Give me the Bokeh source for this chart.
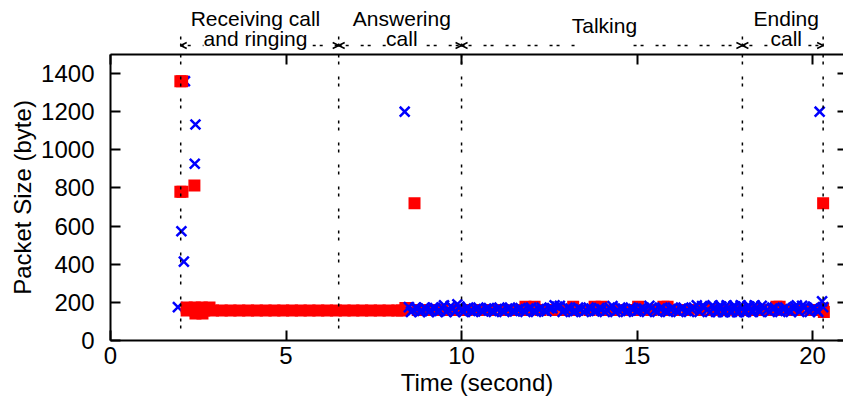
from bokeh.plotting import figure
from bokeh.models import (Range1d, LinearAxis, FixedTicker, CustomJSTickFormatter,
                          Span, Label, Arrow, OpenHead)
from bokeh.layouts import column
from bokeh.embed import file_html
from bokeh.resources import INLINE

# ---------------- data ----------------
x_ticks = [0, 5, 10, 15, 20]
y_ticks = [0, 200, 400, 600, 800, 1000, 1200, 1400]

phase_bounds = [2.0, 6.5, 10.0, 18.0, 20.3]
phase_names = [["Receiving call", "and ringing"], ["Answering", "call"], ["Talking"], ["Ending", "call"]]

# red squares (one direction of the call)
red_x = [1.99, 2.04, 1.99, 2.05, 2.39,
         2.17, 2.40, 2.60, 2.82,
         2.42, 2.62,
         2.17, 2.42, 2.67, 2.92, 3.17, 3.42, 3.67, 3.92, 4.17, 4.42, 4.67, 4.92,
         5.17, 5.42, 5.67, 5.92, 6.17, 6.42, 6.67, 6.92, 7.17, 7.42, 7.67, 7.92,
         8.17, 8.30, 8.40,
         8.66,
         8.75, 9.10, 9.45, 9.80, 10.15, 10.50, 10.85, 11.20, 11.55, 11.90, 12.25,
         12.60, 12.95, 13.30, 13.65, 14.00, 14.35, 14.70, 15.05, 15.40, 15.75,
         16.10, 16.45, 16.80, 17.15, 17.50, 17.85, 18.20, 18.55, 18.90, 19.25,
         19.60, 19.95, 20.20,
         11.82, 12.08, 13.18, 13.79, 13.99, 15.03, 15.75, 15.87, 18.97, 19.06,
         20.30, 20.30, 20.32]
red_y = [1360, 1360, 780, 780, 813,
         173, 173, 173, 173,
         141, 141,
         157, 157, 157, 157, 157, 157, 157, 157, 157, 157, 157, 157,
         157, 157, 157, 157, 157, 157, 157, 157, 157, 157, 157, 157,
         157, 157, 170,
         720,
         160, 160, 160, 160, 160, 160, 160, 160, 160, 160, 160,
         160, 160, 160, 160, 160, 160, 160, 160, 160, 160,
         160, 160, 160, 160, 160, 160, 160, 160, 160, 160,
         160, 160, 160,
         177, 177, 177, 177, 177, 177, 177, 177, 177, 177,
         720, 168, 150]

# blue crosses (other direction), early part drawn under the red squares
blue_early_x = [1.92, 2.02, 2.09, 2.12, 2.40, 2.42]
blue_early_y = [175, 573, 414, 1360, 927, 1133]

# blue crosses from answering onwards
blue_x = [8.38,
          8.50, 8.62, 8.75, 8.88, 9.00, 9.12, 9.25, 9.38, 9.50, 9.62, 9.75, 9.88,
          10.00, 10.12, 10.25, 10.40, 10.55, 10.70, 10.85, 11.00, 11.15, 11.30,
          11.45, 11.60, 11.75, 11.90, 12.05, 12.20, 12.35, 12.50, 12.65, 12.80,
          12.95, 13.10, 13.25, 13.40, 13.55, 13.70, 13.85, 14.00, 14.15, 14.30,
          14.45, 14.60, 14.75, 14.90, 15.05, 15.20, 15.35, 15.50, 15.65, 15.80,
          15.95, 16.10, 16.25, 16.40, 16.55, 16.70, 16.85, 17.00, 17.15, 17.25,
          17.35, 17.45, 17.55, 17.65, 17.75, 17.85, 17.95, 18.05, 18.15, 18.25,
          18.35, 18.45, 18.55, 18.70, 18.85, 19.00, 19.15, 19.30, 19.45, 19.55,
          19.70, 19.85, 20.00, 20.12,
          20.20, 20.27, 20.30]
blue_y = [1200,
          175, 160, 168, 155, 165, 158, 170, 155, 185, 160, 170, 190,
          158, 168, 155, 165, 158, 168, 155, 165, 158, 168,
          155, 165, 158, 168, 155, 165, 158, 168, 185, 182,
          160, 168, 155, 165, 158, 168, 155, 165, 158, 180,
          160, 168, 155, 165, 158, 168, 182, 158, 168, 155,
          165, 158, 168, 155, 165, 185, 180, 160, 185, 150,
          182, 148, 185, 150, 182, 148, 185, 150, 182, 152,
          185, 158, 182, 160, 168, 155, 165, 158, 168, 185,
          182, 160, 168, 158,
          1200, 205, 175]

# second, interleaved row of blue crosses in the talking band
blue2_x = [8.56, 8.69, 8.81, 8.94, 9.06, 9.19, 9.31, 9.44, 9.56, 9.69, 9.81, 9.94,
           10.06, 10.19, 10.33, 10.48, 10.62, 10.78, 10.92, 11.08, 11.22, 11.38,
           11.52, 11.68, 11.82, 11.98, 12.12, 12.28, 12.42, 12.58, 12.72, 12.88,
           13.02, 13.18, 13.32, 13.48, 13.62, 13.78, 13.92, 14.08, 14.22, 14.38,
           14.52, 14.68, 14.82, 14.98, 15.12, 15.28, 15.42, 15.58, 15.72, 15.88,
           16.02, 16.18, 16.32, 16.48, 16.62, 16.78, 16.92, 17.08, 17.20, 17.30,
           17.40, 17.50, 17.60, 17.70, 17.80, 17.90, 18.00, 18.10, 18.20, 18.30,
           18.40, 18.50, 18.62, 18.78, 18.92, 19.08, 19.22, 19.38, 19.50, 19.62,
           19.78, 19.92, 20.06, 20.16]
blue2_y = [150, 172, 150, 172, 150, 172, 150, 172, 150, 180, 150, 178,
           150, 172, 150, 172, 152, 170, 150, 172, 150, 172,
           152, 170, 150, 172, 150, 172, 152, 170, 178, 150,
           172, 150, 172, 150, 172, 152, 170, 150, 172, 150,
           172, 150, 172, 152, 170, 150, 172, 150, 172, 150,
           172, 150, 172, 150, 172, 150, 178, 150, 172, 150,
           178, 150, 172, 150, 178, 150, 172, 150, 178, 150,
           172, 150, 172, 150, 172, 150, 172, 150, 178, 150,
           178, 150, 172, 150]

# ---------------- styling ----------------
FONT = "Liberation Sans"
FS = "24px"
HFS = "21px"
DASH = "3 4 3 12"
W = 843
LEFT = 110
HDR_H = 52

p = figure(width=W, height=407 - HDR_H, x_range=Range1d(0, 20.88), y_range=Range1d(0, 1500),
           output_backend="svg", toolbar_location=None,
           min_border_left=LEFT, min_border_right=0, min_border_top=2, min_border_bottom=67)
p.outline_line_color = None
p.grid.visible = False
p.background_fill_color = "white"
p.border_fill_color = "white"

p.xaxis.ticker = FixedTicker(ticks=x_ticks)
p.yaxis.ticker = FixedTicker(ticks=y_ticks)
p.xaxis.axis_label = "Time (second)"
p.yaxis.axis_label = "Packet Size (byte)"
for ax in (p.xaxis[0], p.yaxis[0]):
    ax.axis_line_width = 2
    ax.axis_line_color = "black"
    ax.major_tick_in = 10
    ax.major_tick_out = 0
    ax.major_tick_line_width = 2
    ax.minor_tick_line_color = None
    ax.major_label_text_font = FONT
    ax.major_label_text_font_size = FS
    ax.major_label_text_color = "black"
    ax.axis_label_text_font = FONT
    ax.axis_label_text_font_size = FS
    ax.axis_label_text_font_style = "normal"
    ax.axis_label_text_color = "black"
p.xaxis.major_label_standoff = 6
p.xaxis.axis_label_standoff = 2
p.yaxis.major_label_standoff = 16
p.yaxis.axis_label_standoff = 2

blank = "return ''"
top_ax = LinearAxis(ticker=FixedTicker(ticks=x_ticks), formatter=CustomJSTickFormatter(code=blank),
                    major_label_text_font_size="0px", major_label_standoff=0,
                    major_tick_in=10, major_tick_out=0, major_tick_line_width=2,
                    axis_line_width=2, minor_tick_line_color=None)
p.add_layout(top_ax, "above")


def right_axis(ticks, tick_color):
    return LinearAxis(ticker=FixedTicker(ticks=ticks), formatter=CustomJSTickFormatter(code=blank),
                      major_label_text_font_size="0px", major_label_standoff=0,
                      major_tick_in=6, major_tick_out=0, major_tick_line_width=2,
                      major_tick_line_color=tick_color,
                      axis_line_color=None, minor_tick_line_color=None)


p.add_layout(right_axis(y_ticks, "black"), "right")

for b in phase_bounds:
    p.add_layout(Span(location=b, dimension="height", line_color="black",
                      line_width=1.5, line_dash=DASH))

BLUE = "#0000ff"
p.scatter(blue_early_x, blue_early_y, marker="x", size=14, line_width=2.5, color=BLUE)
p.scatter(red_x, red_y, marker="square", size=12, fill_color="#ff0000", line_color=None)
p.scatter(blue2_x, blue2_y, marker="x", size=14, line_width=2.5, color=BLUE)
p.scatter(blue_x, blue_y, marker="x", size=14, line_width=2.5, color=BLUE)

# ---------------- header with phases ----------------
h = figure(width=W, height=HDR_H, x_range=p.x_range, y_range=Range1d(HDR_H, 0),
           output_backend="svg", toolbar_location=None, x_axis_type=None, y_axis_type=None,
           min_border_left=LEFT, min_border_right=0, min_border_top=0, min_border_bottom=0)
h.outline_line_color = None
h.grid.visible = False
h.background_fill_color = "white"
h.border_fill_color = "white"
h.add_layout(right_axis([], None), "right")

AY = 45
n = len(phase_bounds)
h.segment(x0=phase_bounds, y0=[36] * n, x1=phase_bounds, y1=[HDR_H] * n,
          line_color="black", line_width=1.5, line_dash=DASH)

# arrow bodies (the talking one is interrupted under its label)
body_x0 = [phase_bounds[0], phase_bounds[1], phase_bounds[2], 14.9, phase_bounds[3]]
body_x1 = [phase_bounds[1], phase_bounds[2], 13.28, phase_bounds[3], phase_bounds[4]]
h.segment(x0=body_x0, y0=[AY] * 5, x1=body_x1, y1=[AY] * 5,
          line_color="black", line_width=1.5, line_dash=DASH)
for i in range(n - 1):
    h.add_layout(Arrow(x_start=phase_bounds[i], x_end=phase_bounds[i + 1], y_start=AY, y_end=AY,
                       line_color=None,
                       start=OpenHead(size=6, line_width=1.5, line_color="black"),
                       end=OpenHead(size=6, line_width=1.5, line_color="black")))

label_x = [4.13, 8.30, 14.07, 19.25]


def hlabel(x, y, text, bg=None):
    return Label(x=x, y=y, text=text, text_align="center", text_baseline="middle",
                 text_font=FONT, text_font_size=HFS, text_color="black",
                 background_fill_color=bg)


for names, lx in zip(phase_names, label_x):
    if len(names) == 2:
        h.add_layout(hlabel(lx, 38, names[1], "white"))
        h.add_layout(hlabel(lx, 18, names[0]))
    else:
        h.add_layout(hlabel(lx, 25, names[0]))

layout = column(h, p, spacing=0)
open("out.html", "w").write(file_html(layout, INLINE))
